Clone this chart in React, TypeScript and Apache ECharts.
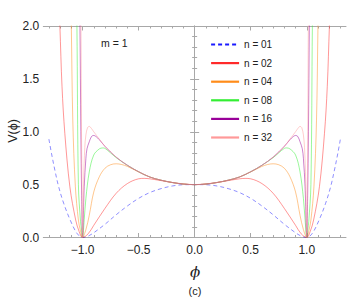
import React, { useEffect, useRef } from "react";
import * as echarts from "echarts";

// ---- data (phi, V(phi)) ----
const phiN01 = [-1.3, -1.277, -1.247, -1.213, -1.168, -1.11, -1.05, -1.0, -0.95, -0.9, -0.8, -0.7, -0.6, -0.5, -0.4, -0.3, -0.2, -0.1, 0, 0.1, 0.2, 0.3, 0.4, 0.5, 0.6, 0.7, 0.8, 0.9, 0.95, 1.0, 1.05, 1.11, 1.168, 1.213, 1.247, 1.277, 1.3];
const vN01 = [0.93, 0.796, 0.638, 0.48, 0.323, 0.165, 0.04, 0, 0.013, 0.045, 0.125, 0.215, 0.298, 0.37, 0.425, 0.462, 0.487, 0.499, 0.5, 0.499, 0.487, 0.462, 0.425, 0.37, 0.298, 0.215, 0.125, 0.045, 0.013, 0, 0.04, 0.165, 0.323, 0.48, 0.638, 0.796, 0.93];

const phiN02 = [-1.22, -1.202, -1.183, -1.158, -1.113, -1.061, -1.03, -1.0, -0.95, -0.9, -0.8, -0.7, -0.6, -0.5, -0.45, -0.4, -0.3, -0.2, -0.1, 0, 0.1, 0.2, 0.3, 0.4, 0.45, 0.5, 0.6, 0.7, 0.8, 0.9, 0.95, 1.0, 1.03, 1.061, 1.113, 1.158, 1.183, 1.202, 1.22];
const vN02 = [2.5, 2.0, 1.426, 0.985, 0.48, 0.165, 0.055, 0, 0.035, 0.115, 0.275, 0.418, 0.51, 0.555, 0.559, 0.555, 0.538, 0.52, 0.507, 0.5, 0.507, 0.52, 0.538, 0.555, 0.559, 0.555, 0.51, 0.418, 0.275, 0.115, 0.035, 0, 0.055, 0.165, 0.48, 0.985, 1.426, 2.0, 2.5];

const phiN04 = [-1.11, -1.1, -1.087, -1.064, -1.037, -1.02, -1.0, -0.97, -0.94, -0.9, -0.85, -0.8, -0.75, -0.7, -0.65, -0.6, -0.5, -0.4, -0.3, -0.2, -0.1, 0, 0.1, 0.2, 0.3, 0.4, 0.5, 0.6, 0.65, 0.7, 0.75, 0.8, 0.85, 0.9, 0.94, 0.97, 1.0, 1.02, 1.037, 1.064, 1.087, 1.1, 1.11];
const vN04 = [2.6, 2.0, 1.11, 0.48, 0.165, 0.07, 0, 0.075, 0.21, 0.43, 0.575, 0.655, 0.688, 0.697, 0.69, 0.672, 0.62, 0.572, 0.542, 0.52, 0.505, 0.5, 0.505, 0.52, 0.542, 0.572, 0.62, 0.672, 0.69, 0.697, 0.688, 0.655, 0.575, 0.43, 0.21, 0.075, 0, 0.07, 0.165, 0.48, 1.11, 2.0, 2.6];

const phiN08 = [-1.058, -1.05, -1.037, -1.018, -1.01, -1.0, -0.985, -0.97, -0.94, -0.9, -0.85, -0.82, -0.8, -0.75, -0.7, -0.6, -0.5, -0.4, -0.3, -0.2, -0.1, 0, 0.1, 0.2, 0.3, 0.4, 0.5, 0.6, 0.7, 0.75, 0.8, 0.82, 0.85, 0.9, 0.94, 0.97, 0.985, 1.0, 1.01, 1.018, 1.037, 1.05, 1.058];
const vN08 = [2.6, 2.0, 0.5, 0.15, 0.08, 0, 0.17, 0.37, 0.62, 0.78, 0.838, 0.847, 0.843, 0.8, 0.755, 0.683, 0.622, 0.572, 0.542, 0.52, 0.505, 0.5, 0.505, 0.52, 0.542, 0.572, 0.622, 0.683, 0.755, 0.8, 0.843, 0.847, 0.838, 0.78, 0.62, 0.37, 0.17, 0, 0.08, 0.15, 0.5, 2.0, 2.6];

const phiN16 = [-1.03, -1.023, -1.015, -1.008, -1.0, -0.985, -0.97, -0.96, -0.94, -0.92, -0.9, -0.88, -0.85, -0.8, -0.7, -0.6, -0.5, -0.4, -0.3, -0.2, -0.1, 0, 0.1, 0.2, 0.3, 0.4, 0.5, 0.6, 0.7, 0.8, 0.85, 0.88, 0.9, 0.92, 0.94, 0.96, 0.97, 0.985, 1.0, 1.008, 1.015, 1.023, 1.03];
const vN16 = [2.6, 2.0, 1.0, 0.4, 0, 0.48, 0.75, 0.84, 0.905, 0.955, 0.965, 0.955, 0.925, 0.862, 0.76, 0.683, 0.622, 0.572, 0.542, 0.52, 0.505, 0.5, 0.505, 0.52, 0.542, 0.572, 0.622, 0.683, 0.76, 0.862, 0.925, 0.955, 0.965, 0.955, 0.905, 0.84, 0.75, 0.48, 0, 0.4, 1.0, 2.0, 2.6];

const phiN32 = [-1.02, -1.014, -1.01, -1.005, -1.0, -0.99, -0.98, -0.97, -0.955, -0.94, -0.92, -0.9, -0.85, -0.8, -0.7, -0.6, -0.5, -0.4, -0.3, -0.2, -0.1, 0, 0.1, 0.2, 0.3, 0.4, 0.5, 0.6, 0.7, 0.8, 0.85, 0.9, 0.92, 0.94, 0.955, 0.97, 0.98, 0.99, 1.0, 1.005, 1.01, 1.014, 1.02];
const vN32 = [2.8, 2.0, 1.1, 0.5, 0, 0.55, 0.85, 0.97, 1.04, 1.05, 1.03, 1.0, 0.93, 0.862, 0.76, 0.683, 0.622, 0.572, 0.542, 0.52, 0.505, 0.5, 0.505, 0.52, 0.542, 0.572, 0.622, 0.683, 0.76, 0.862, 0.93, 1.0, 1.03, 1.05, 1.04, 0.97, 0.85, 0.55, 0, 0.5, 1.1, 2.0, 2.8];

const seriesNames = ["n = 01", "n = 02", "n = 04", "n = 08", "n = 16", "n = 32"];
const seriesColors = ["#1a1aff", "#ff2a2a", "#ff8c1a", "#33ee33", "#990099", "#ff9999"];

const xMajorTicks = [-1, -0.5, 0, 0.5, 1];
const xMinorTicks = [-1.3, -1.2, -1.1, -0.9, -0.8, -0.7, -0.6, -0.4, -0.3, -0.2, -0.1, 0.1, 0.2, 0.3, 0.4, 0.6, 0.7, 0.8, 0.9, 1.1, 1.2, 1.3];
const yMin = 0;
const yMax = 2;
const yStep = 0.5;
const xMin = -1.35;
const xMax = 1.35;

const FRAME = "#a8a8a8";
const LABEL = "#222222";
const FONT = "'Liberation Sans', Arial, sans-serif";

function zip(xs: number[], ys: number[]) {
  return xs.map((x, i) => [x, ys[i]]);
}

const fmtX = (v: number) => (v < 0 ? "\u2212" + Math.abs(v).toFixed(1) : v.toFixed(1));

export default function App() {
  const ref = useRef<HTMLDivElement>(null);
  useEffect(() => {
    if (!ref.current) return;
    const chart = echarts.init(ref.current, null, { renderer: "svg" });
    const datasets = [zip(phiN01, vN01), zip(phiN02, vN02), zip(phiN04, vN04), zip(phiN08, vN08), zip(phiN16, vN16), zip(phiN32, vN32)];

    const xCommon = {
      type: "value" as const,
      min: xMin,
      max: xMax,
      splitLine: { show: false },
    };

    chart.setOption({
      animation: false,
      backgroundColor: "#ffffff",
      grid: { left: 43.3, right: 8, top: 26, bottom: 62.5, containLabel: false },
      legend: {
        orient: "vertical",
        left: 210,
        top: 38.5,
        padding: 0,
        itemWidth: 28,
        itemHeight: 11,
        itemGap: 6.6,
        data: seriesNames,
        textStyle: { fontSize: 10, color: LABEL, fontFamily: FONT, lineHeight: 12 },
        itemStyle: { opacity: 0 },
        lineStyle: { width: 2.2, opacity: 1 },
        selectedMode: false,
      },
      xAxis: [
        {
          ...xCommon,
          position: "bottom",
          axisLine: { show: true, lineStyle: { color: FRAME, width: 1 } },
          axisTick: { show: true, inside: true, length: 4.5, customValues: xMajorTicks, lineStyle: { color: FRAME } },
          axisLabel: { show: true, customValues: xMajorTicks, formatter: fmtX, margin: 6, fontSize: 12, color: LABEL, fontFamily: FONT },
        },
        {
          ...xCommon,
          position: "bottom",
          axisLine: { show: false },
          axisTick: { show: true, inside: true, length: 2.5, customValues: xMinorTicks, lineStyle: { color: FRAME } },
          axisLabel: { show: false },
        },
        {
          ...xCommon,
          position: "top",
          axisLine: { show: true, lineStyle: { color: FRAME, width: 1 } },
          axisTick: { show: true, inside: true, length: 4.5, customValues: xMajorTicks, lineStyle: { color: FRAME } },
          axisLabel: { show: false },
        },
        {
          ...xCommon,
          position: "top",
          axisLine: { show: false },
          axisTick: { show: true, inside: true, length: 2.5, customValues: xMinorTicks, lineStyle: { color: FRAME } },
          axisLabel: { show: false },
        },
      ],
      yAxis: [
        {
          type: "value",
          min: yMin,
          max: yMax,
          interval: yStep,
          position: "left",
          splitLine: { show: false },
          axisLine: { show: true, lineStyle: { color: FRAME, width: 1 } },
          axisTick: { show: true, inside: true, length: 4.5, lineStyle: { color: FRAME } },
          minorTick: { show: true, splitNumber: 5, length: 2.5, lineStyle: { color: FRAME } },
          axisLabel: { formatter: (v: number) => v.toFixed(1), margin: 4, fontSize: 12, color: LABEL, fontFamily: FONT },
        },
        {
          type: "value",
          min: yMin,
          max: yMax,
          interval: yStep,
          position: "right",
          splitLine: { show: false },
          axisLine: { show: true, lineStyle: { color: FRAME, width: 1 } },
          axisTick: { show: true, inside: true, length: 4.5, lineStyle: { color: FRAME } },
          minorTick: { show: true, splitNumber: 5, length: 2.5, lineStyle: { color: FRAME } },
          axisLabel: { show: false },
        },
      ],
      graphic: [
        { type: "text", left: 101, top: 37, style: { text: "m = 1", fontSize: 10.5, fill: LABEL, fontFamily: FONT } },
        {
          type: "text",
          x: 13,
          y: 131,
          rotation: Math.PI / 2,
          style: { text: "V(\u03d5)", fontSize: 12.5, fill: LABEL, fontFamily: FONT, align: "center", verticalAlign: "middle" },
        },
        { type: "text", x: 195, y: 272, style: { text: "\u03d5", fontSize: 15, fontStyle: "italic", fill: LABEL, fontFamily: "'DejaVu Serif', serif", align: "center", verticalAlign: "middle" } },
        { type: "text", x: 195, y: 291, style: { text: "(c)", fontSize: 11, fill: LABEL, fontFamily: FONT, align: "center", verticalAlign: "middle" } },
      ],
      series: seriesNames.map((name, i) => ({
        name,
        type: "line",
        xAxisIndex: 0,
        yAxisIndex: 0,
        data: datasets[i],
        symbol: "none",
        smooth: 0.35,
        clip: true,
        color: seriesColors[i],
        lineStyle: { color: seriesColors[i], width: 0.9, opacity: 0.55, type: i === 0 ? [4, 3] : "solid" },
      })),
    });
    return () => chart.dispose();
  }, []);
  return <div ref={ref} style={{ width: 354, height: 300, position: "absolute", left: 0, top: 0 }} />;
}
